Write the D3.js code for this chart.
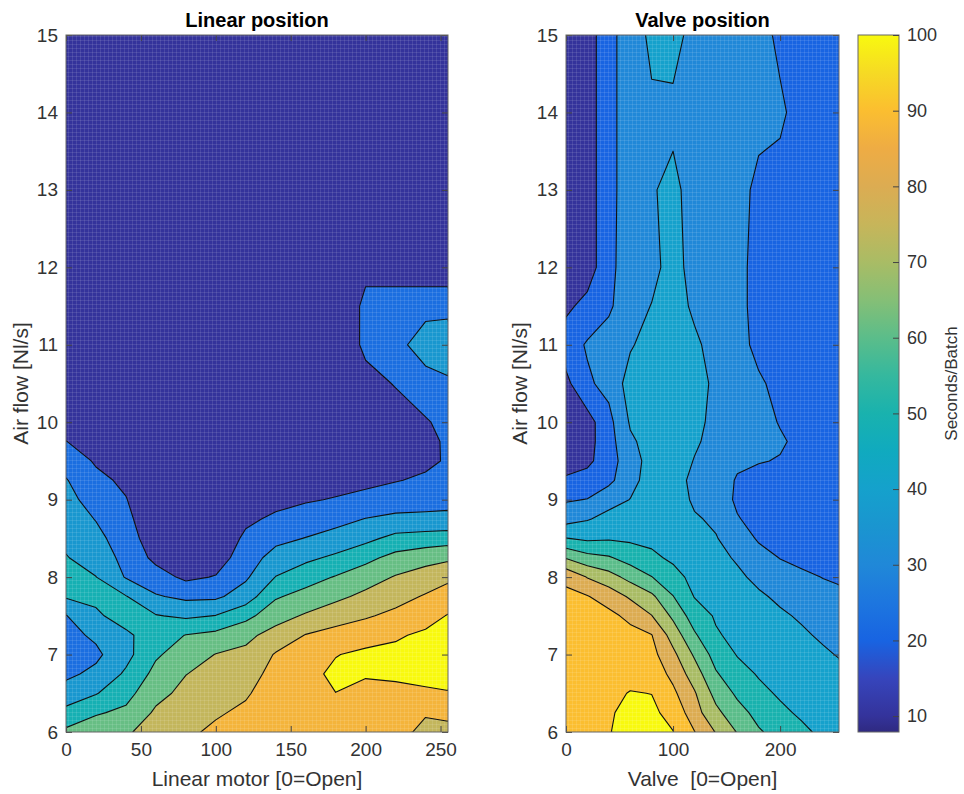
<!DOCTYPE html>
<html>
<head>
<meta charset="utf-8">
<script src="https://cdn.jsdelivr.net/npm/d3@7"></script>
<style>
  body { margin: 0; background: #fff; }
  svg { font-family: "Liberation Sans", Arial, Helvetica, sans-serif; }
</style>
</head>
<body>
<div id="vis"></div>
<script>
// sample positions of the measured grid
var xGrid = [0, 20, 40, 60, 80, 100, 120, 140, 160, 180, 200, 220, 240, 255];
var yGrid = [6, 6.25, 6.5, 6.75, 7, 7.25, 7.5, 7.75, 8, 8.25, 8.5, 8.75, 9, 9.25, 9.5, 9.75, 10, 10.5, 11, 11.5, 12, 13, 14, 15];

// seconds/batch, one row per air flow value (yGrid), one column per position (xGrid)
var leftValues = [
  [52, 56, 58.5, 65, 68, 72, 75, 78, 76, 76, 75, 74, 67, 67.5],
  [43, 49, 52, 61.5, 66, 68.8, 72, 77, 77, 77.5, 76, 76, 71, 72],
  [34, 39.4, 46.7, 57.1, 62.6, 65.9, 68.8, 75.5, 78, 79.9, 77.5, 78.5, 78.5, 79.5],
  [28, 32.3, 41.5, 52.9, 59.8, 62.9, 65.6, 73.5, 77, 82, 80.8, 81, 83, 83],
  [25, 28, 37, 48.7, 54.9, 60.3, 62.3, 70.8, 75, 79.6, 82, 82, 84, 85],
  [27, 31.7, 38.3, 44.7, 50.3, 52.6, 57.5, 63.8, 70.4, 73.5, 76, 79, 81.5, 83.5],
  [29.6, 38.5, 44, 40.6, 38.3, 40.3, 47.1, 56.1, 61.1, 65.7, 68.9, 72.4, 76.6, 80.5],
  [41, 42, 40.5, 30.9, 27.9, 28.2, 34.8, 48.9, 53.5, 57.7, 62.4, 66.5, 70.9, 74.75],
  [43, 40.2, 29.3, 24.1, 18, 20.6, 28.6, 40.3, 45.8, 50.6, 55.4, 60.7, 64.5, 67.8],
  [40.5, 35.9, 27, 17.5, 14, 15, 25.3, 33.6, 37.9, 41.8, 47.3, 53.1, 56.4, 58.1],
  [37.9, 32.75, 24.9, 14, 12, 12, 22, 27.5, 30.3, 33.75, 37.4, 42.9, 44.2, 45.3],
  [35.4, 29.6, 22.7, 12, 12, 12, 18, 21.8, 24.7, 26.8, 30.3, 32.1, 32.3, 32.4],
  [33, 26, 20.4, 12, 12, 12, 15, 17, 19, 20.7, 23.5, 25.2, 26.2, 27],
  [30.6, 22.4, 18.2, 12, 12, 12, 13, 14, 15, 16, 17, 19.5, 21.5, 23],
  [25.8, 18.9, 16, 12, 12, 12, 12, 12, 12, 13, 14, 16, 18, 21],
  [20.2, 15.5, 14.5, 12, 12, 12, 12, 12, 12, 12, 13.5, 15.5, 18.2, 21],
  [14.7, 13, 13, 12, 12, 12, 12, 12, 12, 12, 13, 16, 19.2, 22.5],
  [12, 12, 12, 12, 12, 12, 12, 12, 12, 12, 17, 20.5, 25, 28.5],
  [12, 12, 12, 12, 12, 12, 12, 12, 12, 12, 22, 26, 36, 36],
  [12, 12, 12, 12, 12, 12, 12, 12, 12, 12, 22, 25, 26, 27],
  [12, 12, 12, 12, 12, 12, 12, 12, 12, 12, 18, 15, 14, 13],
  [12, 12, 12, 12, 12, 12, 12, 12, 12, 12, 12, 12, 12, 12],
  [12, 12, 12, 12, 12, 12, 12, 12, 12, 12, 12, 12, 12, 12],
  [12, 12, 12, 12, 12, 12, 12, 12, 12, 12, 12, 12, 12, 12]
];

var rightValues = [
  [97, 97, 99.8, 101.5, 102, 100.2, 90.3, 79.5, 69.5, 61, 56.5, 52, 48, 47],
  [97, 97.5, 99.6, 101, 101.5, 97.5, 84, 72.5, 63.5, 57, 52, 48.5, 46.5, 45.5],
  [96.5, 97.5, 98.5, 100.3, 99.9, 92, 81, 66.7, 58.3, 52.5, 48.8, 46.5, 45, 44],
  [96, 97, 96, 98, 96, 87.4, 75, 61, 53.6, 49.2, 46.8, 44.5, 43, 42],
  [95, 96, 95, 96, 93, 82.4, 68.6, 56, 49.5, 47.8, 45, 43, 41.2, 39.5],
  [94, 95, 94, 93, 90.3, 75.8, 61.4, 51, 47.6, 45.8, 43.2, 41.2, 38.8, 36.5],
  [93, 93, 92.5, 87.6, 80.3, 68, 55, 49, 45.6, 43.5, 41.2, 39, 36, 34],
  [92, 90.5, 85.7, 78.6, 72, 60.3, 49.6, 47, 43.6, 41.2, 38.5, 35.5, 32.8, 31.5],
  [88, 79.5, 74, 66.8, 60.3, 53, 47.5, 45, 41.6, 38, 34, 31.5, 29.8, 29],
  [69.3, 63.3, 61, 56, 51.7, 48.5, 45.3, 42.5, 39, 33.8, 29.7, 28, 27, 26.5],
  [50.3, 48.2, 49, 48.3, 48, 47, 43.2, 40.5, 35.5, 28.8, 26.5, 26, 25, 25],
  [36.3, 39.3, 43, 44, 47, 46, 41, 38.5, 30.8, 26, 25, 25, 24, 24],
  [29, 30.3, 36.5, 40.2, 46, 45, 38.5, 37, 28, 25.5, 25, 24.5, 24, 24],
  [21, 23.5, 27.5, 37, 44, 45, 37, 36, 29, 27, 26.5, 25.5, 24, 24],
  [17, 18, 25, 36.5, 43, 46, 39.5, 36, 32, 30.5, 29.5, 27.5, 24, 24],
  [15.5, 16.5, 26, 38.5, 43.5, 46.5, 41.5, 36.5, 33, 32, 31, 28, 24, 24],
  [15, 16, 27, 41, 44, 47, 43, 37, 34, 33, 29.5, 27, 24, 24],
  [17.5, 28.5, 33, 44, 45, 47, 44, 38, 34.5, 31.5, 27, 25.5, 24, 24],
  [25, 31, 34, 39, 44, 46, 42, 36, 34, 27, 26, 25, 24, 24],
  [18, 23, 28.5, 36, 40.3, 45, 38, 35, 33.5, 26, 25.5, 25, 24, 24],
  [14, 15, 27, 36, 37, 44, 36, 35, 33.5, 26, 25.5, 25, 24, 24],
  [13, 15, 27, 35, 39, 43, 35, 34, 33, 28, 27, 25, 24, 24],
  [13, 15, 27, 35, 38.5, 37, 35, 34, 33.5, 32.5, 31.5, 26.5, 24.5, 24],
  [13, 15, 27, 35, 42, 45, 35, 34, 34, 33.5, 28, 26, 24.5, 24]
];

// contour levels of each panel
var leftLevels = [10, 20, 30, 40, 50, 60, 70, 80];
var rightLevels = [10, 20, 30, 40, 50, 60, 70, 80, 90, 100];

var xTicksLeft = [0, 50, 100, 150, 200, 250];
var xTicksRight = [0, 100, 200];
var yTicks = [6, 7, 8, 9, 10, 11, 12, 13, 14, 15];
var barTicks = [10, 20, 30, 40, 50, 60, 70, 80, 90, 100];
var barRange = [7.9, 100];

// colour map
var colorStops = [8, 10, 15, 20, 25, 30, 35, 40, 45, 50, 55, 60, 65, 70, 75, 80, 85, 90, 95, 100];
var colorHex = ["#2f2a82", "#34339b", "#3645bc", "#1864e2", "#1d76df", "#2088d8", "#1a95d0", "#15a1cc",
                "#10aabf", "#19b2ae", "#35b89e", "#5bbd8a", "#85bf76", "#a9bc65", "#c7b55a", "#dcac52",
                "#eeac44", "#fbbe30", "#f6da24", "#f8f90f"];

var W = 964, H = 794;
var yTop = 35, yBottom = 732;
var textColor = "#333";

var svg = d3.select("#vis").append("svg").attr("width", W).attr("height", H);
var defs = svg.append("defs");

// faint mesh that shows over the filled areas
var pat = defs.append("pattern").attr("id", "mesh")
    .attr("width", 4).attr("height", 4).attr("patternUnits", "userSpaceOnUse");
pat.append("path").attr("d", "M0 0.5H4M0.5 0V4")
    .attr("stroke", "#fff").attr("stroke-opacity", 0.1).attr("stroke-width", 1);

var parula = d3.scaleLinear().domain(colorStops).range(colorHex).clamp(true);
var leftClim = d3.scaleLinear().domain([10, 80]).range([10, 100]);

drawPanel({
    id: "left", x0: 66, x1: 448,
    values: leftValues, levels: leftLevels,
    fill: function(v) { return parula(leftClim(v)); },
    xTicks: xTicksLeft, title: "Linear position",
    xLabel: "Linear motor [0=Open]", yLabelX: 28
});
drawPanel({
    id: "right", x0: 566, x1: 839,
    values: rightValues, levels: rightLevels,
    fill: parula,
    xTicks: xTicksRight, title: "Valve position",
    xLabel: "Valve  [0=Open]", yLabelX: 527
});
drawColorbar();

function styleAxis(g, size)
{
    g.select(".domain").remove();
    g.selectAll("line").attr("stroke", "#444");
    g.selectAll("text").attr("fill", textColor).attr("font-size", size)
        .attr("font-family", "Liberation Sans, Arial, sans-serif");
}

function drawPanel(p)
{
    var x = d3.scaleLinear().domain([0, 255]).range([p.x0, p.x1]);
    var y = d3.scaleLinear().domain([6, 15]).range([yBottom, yTop]);

    var nx = xGrid.length, ny = yGrid.length;
    var ix = d3.scaleLinear().domain(d3.range(nx)).range(xGrid);
    var iy = d3.scaleLinear().domain(d3.range(ny)).range(yGrid);

    // contour coordinates -> pixels; the outer half cell is pushed outside the clip
    function gx(c) {
        var q = c - 0.5;
        if (q < 0) return x(xGrid[0]) + 8 * q;
        if (q > nx - 1) return x(xGrid[nx - 1]) + 8 * (q - nx + 1);
        return x(ix(q));
    }
    function gy(c) {
        var q = c - 0.5;
        if (q < 0) return y(yGrid[0]) - 8 * q;
        if (q > ny - 1) return y(yGrid[ny - 1]) - 8 * (q - ny + 1);
        return y(iy(q));
    }
    var path = d3.geoPath(d3.geoTransform({
        point: function(a, b) { this.stream.point(gx(a), gy(b)); }
    }));

    var bands = d3.contours().size([nx, ny]).thresholds(p.levels)(d3.merge(p.values));

    defs.append("clipPath").attr("id", "clip-" + p.id)
        .append("rect").attr("x", p.x0).attr("y", yTop)
        .attr("width", p.x1 - p.x0).attr("height", yBottom - yTop);

    var g = svg.append("g").attr("clip-path", "url(#clip-" + p.id + ")");
    g.selectAll("path.band").data(bands).join("path")
        .attr("class", "band")
        .attr("d", path)
        .attr("fill", function(d) { return p.fill(d.value); });
    g.append("rect").attr("x", p.x0).attr("y", yTop)
        .attr("width", p.x1 - p.x0).attr("height", yBottom - yTop)
        .attr("fill", "url(#mesh)");
    g.selectAll("path.line").data(bands.slice(1)).join("path")
        .attr("class", "line")
        .attr("d", path)
        .attr("fill", "none")
        .attr("stroke", "#111")
        .attr("stroke-width", 1.1)
        .attr("stroke-linejoin", "round");

    // axes, ticks inside the box on all four sides
    svg.append("g").attr("transform", "translate(0," + yBottom + ")")
        .call(d3.axisBottom(x).tickValues(p.xTicks).tickSize(-6).tickPadding(11).tickFormat(d3.format("d")))
        .call(styleAxis, 19);
    svg.append("g").attr("transform", "translate(0," + yTop + ")")
        .call(d3.axisTop(x).tickValues(p.xTicks).tickSize(-6).tickFormat(""))
        .call(styleAxis, 19);
    svg.append("g").attr("transform", "translate(" + p.x0 + ",0)")
        .call(d3.axisLeft(y).tickValues(yTicks).tickSize(-6).tickPadding(8).tickFormat(d3.format("d")))
        .call(styleAxis, 19);
    svg.append("g").attr("transform", "translate(" + p.x1 + ",0)")
        .call(d3.axisRight(y).tickValues(yTicks).tickSize(-6).tickFormat(""))
        .call(styleAxis, 19);

    svg.append("rect").attr("x", p.x0).attr("y", yTop)
        .attr("width", p.x1 - p.x0).attr("height", yBottom - yTop)
        .attr("fill", "none").attr("stroke", "#666").attr("stroke-width", 1);

    var cx = (p.x0 + p.x1) / 2;
    svg.append("text").attr("x", cx).attr("y", 27)
        .attr("text-anchor", "middle").attr("font-weight", "bold")
        .attr("font-size", 20).attr("fill", "#000")
        .text(p.title);
    svg.append("text").attr("x", cx).attr("y", 786)
        .attr("text-anchor", "middle").attr("font-size", 21)
        .attr("fill", textColor).style("white-space", "pre")
        .text(p.xLabel);
    svg.append("text")
        .attr("transform", "translate(" + p.yLabelX + "," + (yTop + yBottom) / 2 + ") rotate(-90)")
        .attr("text-anchor", "middle").attr("font-size", 21)
        .attr("fill", textColor)
        .text("Air flow [Nl/s]");
}

function drawColorbar()
{
    var bx = 858, bw = 41;
    var cb = d3.scaleLinear().domain(barRange).range([yBottom, yTop]);

    var grad = defs.append("linearGradient").attr("id", "cbar")
        .attr("x1", 0).attr("y1", 1).attr("x2", 0).attr("y2", 0);
    grad.selectAll("stop").data(colorStops).join("stop")
        .attr("offset", function(v) { return Math.max(0, (v - barRange[0]) / (barRange[1] - barRange[0])); })
        .attr("stop-color", function(v) { return parula(v); });

    svg.append("rect").attr("x", bx).attr("y", yTop)
        .attr("width", bw).attr("height", yBottom - yTop)
        .attr("fill", "url(#cbar)").attr("stroke", "#666");

    svg.append("g").attr("transform", "translate(" + (bx + bw) + ",0)")
        .call(d3.axisRight(cb).tickValues(barTicks).tickSize(-6).tickPadding(8))
        .call(styleAxis, 18);

    svg.append("text")
        .attr("transform", "translate(957," + (yTop + yBottom) / 2 + ") rotate(-90)")
        .attr("text-anchor", "middle").attr("font-size", 17)
        .attr("fill", textColor)
        .text("Seconds/Batch");
}
</script>
</body>
</html>
